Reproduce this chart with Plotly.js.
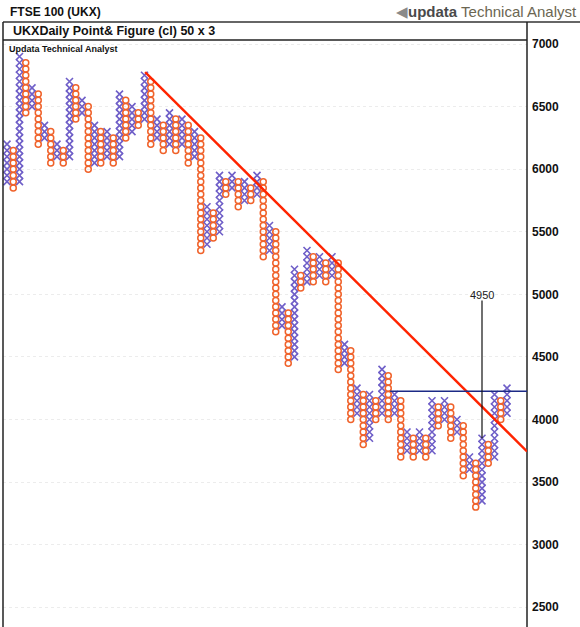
<!DOCTYPE html>
<html>
<head>
<meta charset="utf-8">
<script src="https://cdn.plot.ly/plotly-3.0.1.min.js"></script>
<style>
html,body{margin:0;padding:0;background:#fff;}
#chart{width:580px;height:627px;}
</style>
</head>
<body>
<div id="chart"></div>
<script>
// Point & Figure columns (box size 50, 3-box reversal)
const colType = ['X','O','X','O','X','O','X','O','X','O','X','O','X','O','X','O','X','O','X','O',
                 'X','O','X','O','X','O','X','O','X','O','X','O','X','O','X','O','X','O','X','O',
                 'X','O','X','O','X','O','X','O','X','O','X','O','X','O','X','O','X','O','X','O',
                 'X','O','X','O','X','O','X','O','X','O','X','O','X','O','X','O','X','O','X','O','X'];
const colLow  = [5900,5850,5900,6450,6500,6200,6250,6050,6100,6050,6100,6400,6450,6000,6050,6050,6100,6050,6100,6250,
                 6300,6350,6400,6200,6250,6150,6200,6150,6200,6050,6100,5350,5400,5450,5500,5800,5850,5700,5750,5750,
                 5800,5300,5350,4700,4750,4450,4500,5050,5100,5100,5150,5100,5150,4400,4450,4000,4050,3800,3850,4000,
                 4050,4000,4050,3700,3750,3700,3750,3700,3750,3950,4000,3850,3900,3550,3600,3300,3350,3650,3700,4000,4050];
const colHigh = [6200,6150,6900,6850,6650,6600,6350,6300,6200,6150,6700,6650,6550,6500,6350,6300,6300,6250,6600,6550,
                 6500,6450,6750,6700,6400,6350,6450,6400,6400,6350,6300,6250,5700,5650,5950,5900,5950,5900,5900,5850,
                 5950,5900,5550,5500,4900,4850,5200,5150,5350,5300,5300,5250,5300,5250,4600,4550,4250,4200,4200,4150,
                 4400,4350,4200,4150,3900,3850,3900,3850,4150,4100,4150,4100,4000,3950,3700,3650,3850,3800,4200,4150,4250];
const boxSize = 50;
const yTicks = [2500,3000,3500,4000,4500,5000,5500,6000,6500,7000];

// Trend / annotation levels
const trendStart = {col: 22.1, price: 6775};
const trendEnd   = {col: 83.2, price: 3745};
const breakoutLevel = 4225, breakoutFromCol = 61.3;
const targetCol = 76, targetFrom = 3850, targetPrice = 4950;

// expand columns into boxes
const xs = {x:[], y:[]}, os = {x:[], y:[]};
for (let i = 0; i < colType.length; i++) {
  const t = colType[i] === 'X' ? xs : os;
  for (let p = colLow[i]; p <= colHigh[i]; p += boxSize) { t.x.push(i); t.y.push(p); }
}

const traces = [
  {type:'scatter', mode:'markers', x:xs.x, y:xs.y, hoverinfo:'skip',
   marker:{symbol:'x-thin-open', size:7, line:{width:1.6, color:'#6f5fc8'}, color:'#6f5fc8'}},
  {type:'scatter', mode:'markers', x:os.x, y:os.y, hoverinfo:'skip',
   marker:{symbol:'circle-open', size:6, line:{width:1.5, color:'#f0622a'}, color:'#f0622a'}}
];

// paper helpers (plot area: x 3..527, y 40..627)
const px = v => (v - 3) / 524;
const py = v => (627 - v) / 587;

const layout = {
  width:580, height:627,
  margin:{l:3, r:53, t:40, b:0, pad:0},
  paper_bgcolor:'#fff', plot_bgcolor:'#fff',
  showlegend:false,
  font:{family:'Arial, Liberation Sans, sans-serif', color:'#111'},
  xaxis:{range:[-0.64, 83.2], visible:false, fixedrange:true},
  yaxis:{range:[2342, 7032], side:'right', tickvals:yTicks, ticktext:yTicks.map(String),
         showgrid:true, gridcolor:'#ececec', griddash:'dot', gridwidth:1,
         zeroline:false, showline:false, ticks:'', ticklabelstandoff:4,
         tickfont:{size:12, weight:'bold', color:'#111'}},
  shapes:[
    {type:'line', xref:'paper', yref:'paper', x0:0, x1:px(580), y0:py(22), y1:py(22), line:{color:'#333', width:1.5}},
    {type:'line', xref:'paper', yref:'paper', x0:0, x1:1, y0:1, y1:1, line:{color:'#222', width:1.5}},
    {type:'line', xref:'paper', yref:'paper', x0:0, x1:0, y0:0, y1:py(22), line:{color:'#222', width:1.5}},
    {type:'line', xref:'paper', yref:'paper', x0:1, x1:1, y0:0, y1:py(22), line:{color:'#222', width:1.5}},
    {type:'line', xref:'x', yref:'y', x0:trendStart.col, y0:trendStart.price, x1:trendEnd.col, y1:trendEnd.price,
     line:{color:'#ff2400', width:2.4}},
    {type:'line', xref:'x', yref:'y', x0:breakoutFromCol, y0:breakoutLevel, x1:83.2, y1:breakoutLevel,
     line:{color:'#1c2a86', width:1.6}},
    {type:'line', xref:'x', yref:'y', x0:targetCol, y0:targetFrom, x1:targetCol, y1:targetPrice,
     line:{color:'#111', width:1.2}}
  ],
  annotations:[
    {xref:'paper', yref:'paper', x:px(8), y:py(12), xanchor:'left', yanchor:'middle', showarrow:false,
     text:'FTSE 100 (UKX)', font:{size:12, weight:'bold', color:'#111'}},
    {xref:'paper', yref:'paper', x:px(11), y:py(31), xanchor:'left', yanchor:'middle', showarrow:false,
     text:'UKXDaily Point& Figure (cl) 50 x 3', font:{size:12.5, weight:'bold', color:'#111'}},
    {xref:'paper', yref:'paper', x:px(7), y:py(49), xanchor:'left', yanchor:'middle', showarrow:false,
     text:'Updata Technical Analyst', font:{size:9, weight:'bold', color:'#111'}},
    {xref:'paper', yref:'paper', x:px(579), y:py(12), xanchor:'right', yanchor:'middle', showarrow:false,
     text:"<span style='color:#8a8a8a'>◀</span><span style='color:#4a4a4a'><b>updata</b></span> <span style='color:#6b6652'>Technical Analyst</span>",
     font:{size:15, color:'#555'}},
    {xref:'x', yref:'y', x:targetCol, y:targetPrice, xanchor:'center', yanchor:'bottom', showarrow:false, yshift:-2,
     text:String(targetPrice), font:{size:11, color:'#222'}}
  ]
};

Plotly.newPlot('chart', traces, layout, {displayModeBar:false, staticPlot:true});
</script>
</body>
</html>
